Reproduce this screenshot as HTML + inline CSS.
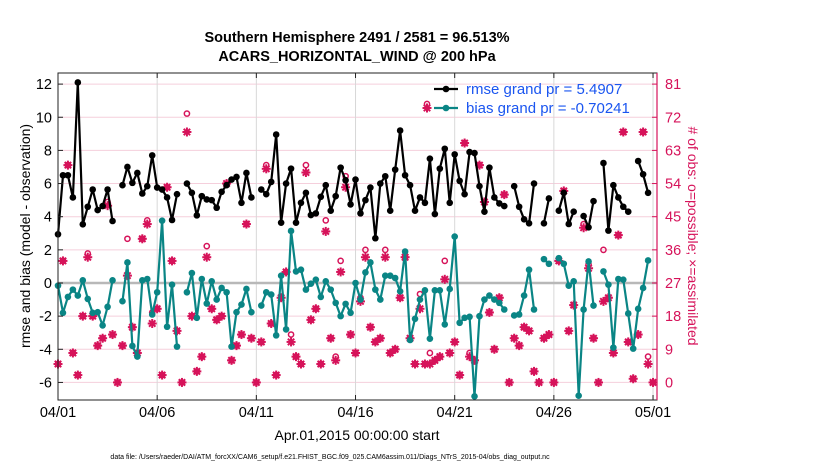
<!DOCTYPE html>
<html><head><meta charset="utf-8"><style>
body{margin:0;background:#fff;}
svg{display:block;font-family:"Liberation Sans",sans-serif;}
</style></head><body>
<svg id="chart" width="830" height="470" viewBox="0 0 830 470" xmlns="http://www.w3.org/2000/svg">
<text x="357" y="42" text-anchor="middle" font-size="14.5" font-weight="bold">Southern Hemisphere 2491 / 2581 = 96.513%</text>
<text x="357" y="61" text-anchor="middle" font-size="14.5" font-weight="bold">ACARS_HORIZONTAL_WIND @ 200 hPa</text>
<g id="grid"></g>
<g id="marks"></g>
<g id="axes"></g>
<text transform="translate(30,236) rotate(-90)" text-anchor="middle" font-size="14">rmse and bias (model - observation)</text>
<text transform="translate(688,236) rotate(90)" text-anchor="middle" font-size="14" fill="#d6135a"># of obs: o=possible; ×=assimilated</text>
<text x="357" y="440" text-anchor="middle" font-size="14">Apr.01,2015 00:00:00 start</text>
<text x="330" y="459" text-anchor="middle" font-size="7">data file: /Users/raeder/DAI/ATM_forcXX/CAM6_setup/f.e21.FHIST_BGC.f09_025.CAM6assim.011/Diags_NTrS_2015-04/obs_diag_output.nc</text>
<g id="legend"></g>
</svg>
<script>
const rmse=[2.94,6.5,6.5,5.16,12.1,3.54,4.6,5.64,4.4,4.64,5.64,3.74,null,5.9,7.0,6.04,6.64,5.4,5.84,7.7,5.76,5.64,5.16,3.8,5.36,null,6.0,5.44,4.08,5.24,5.04,5.0,4.54,5.5,5.9,6.24,6.4,4.84,6.64,5.16,null,5.64,5.36,6.1,8.96,3.64,6.0,6.9,3.64,4.84,5.44,4.1,4.2,5.2,5.9,4.36,5.24,6.96,6.2,4.74,6.24,4.2,5.0,5.76,2.7,6.0,6.44,4.36,6.84,9.2,6.5,5.9,4.36,5.16,4.84,7.5,4.16,6.9,8.1,4.84,7.76,6.16,5.36,7.9,7.84,5.84,4.3,6.96,5.16,4.8,4.64,null,5.84,4.6,3.84,3.6,6.0,null,3.6,5.1,null,4.36,5.44,3.56,4.3,null,4.04,3.36,4.94,null,7.24,3.16,5.9,5.16,4.6,4.3,null,7.36,6.56,5.44];
const bias=[-0.16,-1.8,-0.84,-0.4,-0.76,0.16,-0.96,-1.8,-1.76,-2.56,-1.44,0.16,null,-1.1,1.24,-3.8,-4.44,0.16,0.24,-1.9,-0.56,3.76,-2.64,-0.1,-3.84,null,-0.56,0.6,-2.1,0.24,-1.24,0.1,-1.0,-0.3,-0.56,-3.84,-1.76,-1.3,-0.36,-1.76,null,-1.36,-0.56,-0.7,-3.16,0.44,-2.8,3.14,0.7,0.8,-0.4,-0.04,0.2,-0.84,0.1,-0.4,-1.2,-2.0,-1.26,-1.8,0.0,-1.0,0.64,1.24,-0.4,-1.0,0.44,0.44,0.3,-0.5,1.9,-3.44,-2.16,-1.0,-0.44,-3.36,-0.44,-0.44,-2.5,-0.36,2.8,-2.4,-2.1,-2.04,-6.84,-2.0,-1.0,-0.76,-1.0,-1.2,-1.6,null,-1.96,-1.9,-0.76,0.8,-1.6,null,1.44,1.16,null,1.5,1.16,-0.16,0.1,-6.8,-1.6,1.3,-1.36,null,0.7,-0.1,-3.9,0.24,0.2,-1.84,-3.96,-1.56,-0.3,1.36];
const assimilated=[5,33,59,8,2,18,34,18,10,12,48,13,0,10,29,15,8,39,43,16,20,2,53,33,14,0,68,18,3,7,34,20,17,18,54,6,10,13,43,12,0,11,58,16,2,23,30,11,7,5,57,17,20,5,41,12,6,30,53,13,8,22,34,15,11,12,34,8,9,23,34,12,5,20,5,5,6,7,28,8,11,2,65,7,6,59,49,19,9,23,51,0,12,10,15,14,3,0,12,13,0,33,52,14,21,null,42,31,12,0,22,23,8,40,68,11,1,13,68,5,0];
const possible=[5,33,59,8,2,18,35,18,10,12,49,13,0,10,39,15,8,39,44,19,20,2,53,33,14,0,73,18,3,7,37,20,17,18,54,6,10,13,43,12,0,11,59,16,2,23,30,13,7,5,59,17,20,5,44,12,7,33,56,13,8,23,36,15,11,12,36,8,9,23,34,12,5,24,5,8,6,7,33,8,11,2,65,8,6,59,49,19,9,23,51,0,12,10,15,14,3,0,12,13,0,33,52,14,21,null,43,32,12,0,36,23,8,40,68,11,1,13,68,7,0];
const leftTicks=[-6,-4,-2,0,2,4,6,8,10,12];
const rightTicks=[0,9,18,27,36,45,54,63,72,81];
const dateLabels=["04/01","04/06","04/11","04/16","04/21","04/26","05/01"];
const dateDays=[0,5,10,15,20,25,30];

const X0=58,X1=657,Y0=73,Y1=400;
const vMin=-7.06,vMax=12.67;
const dayMax=30.2;
function xs(d){return X0+d/dayMax*(X1-X0);}
function ys(v){return Y1-(v-vMin)/(vMax-vMin)*(Y1-Y0);}
function yc(c){return ys(c/4.5-6);}
const NS="http://www.w3.org/2000/svg";
function mk(tag,attrs,parent){const e=document.createElementNS(NS,tag);for(const k in attrs)e.setAttribute(k,attrs[k]);parent.appendChild(e);return e;}
const grid=document.getElementById('grid'),marks=document.getElementById('marks'),axes=document.getElementById('axes'),legend=document.getElementById('legend');
const PINK="#d6135a",TEAL="#0a8585";

mk('rect',{x:X0,y:Y0,width:X1-X0,height:Y1-Y0,fill:'#fff'},grid);
rightTicks.forEach(c=>{const l=mk('line',{x1:X0,x2:X1,y1:yc(c),y2:yc(c),stroke:'#f5cfdc','stroke-width':1},grid);

});
dateDays.forEach(d=>{const l=mk('line',{x1:xs(d),x2:xs(d),y1:Y0,y2:Y1,stroke:'#d8d8d8','stroke-width':1},grid);

});
const zl=mk('line',{x1:X0,x2:X1,y1:ys(0),y2:ys(0),stroke:'#b8b8b8','stroke-width':2.5},grid);



function px(i){return xs(i/4);}
function drawLine(arr,color,name){
  let d='',pen=false;
  arr.forEach((v,i)=>{if(v===null){pen=false;return;}d+=(pen?'L':'M')+px(i).toFixed(1)+' '+ys(v).toFixed(1);pen=true;});
  const p=mk('path',{d:d,fill:'none',stroke:color,'stroke-width':2.2,'stroke-linejoin':'round'},marks);
  
  
  arr.forEach((v,i)=>{if(v===null)return;const c=mk('circle',{cx:px(i),cy:ys(v),r:3.3,fill:color},marks);
  
  });
}
function star(x,y,parent){
  const g=mk('g',{stroke:PINK,'stroke-width':2},parent);
  [[0,-4.5,0,4.5],[-4.5,0,4.5,0],[-3.2,-3.2,3.2,3.2],[-3.2,3.2,3.2,-3.2]].forEach(s=>mk('line',{x1:x+s[0],y1:y+s[1],x2:x+s[2],y2:y+s[3]},g));
  return g;
}
possible.forEach((c,i)=>{if(c===null)return;const e=mk('circle',{cx:px(i),cy:yc(c),r:2.6,fill:'none',stroke:PINK,'stroke-width':1.5},marks);

});
assimilated.forEach((c,i)=>{if(c===null)return;const g=star(px(i),yc(c),marks);

});
drawLine(rmse,'#000','rmse');
drawLine(bias,TEAL,'bias');

mk('rect',{x:X0,y:Y0,width:X1-X0,height:Y1-Y0,fill:'none',stroke:'#222','stroke-width':1},axes);
mk('line',{x1:X1,x2:X1,y1:Y0,y2:Y1,stroke:PINK,'stroke-width':1.2},axes);
leftTicks.forEach(v=>{mk('line',{x1:X0,x2:X0+5,y1:ys(v),y2:ys(v),stroke:'#222'},axes);
const t=mk('text',{x:X0-6,y:ys(v)+5,'text-anchor':'end','font-size':14.5},axes);t.textContent=v;

});
rightTicks.forEach(c=>{mk('line',{x1:X1-5,x2:X1,y1:yc(c),y2:yc(c),stroke:PINK},axes);
const t=mk('text',{x:X1+8,y:yc(c)+5,'font-size':14.5,fill:PINK},axes);t.textContent=c;

});
dateDays.forEach((d,k)=>{mk('line',{x1:xs(d),x2:xs(d),y1:Y1,y2:Y1-5,stroke:'#222'},axes);mk('line',{x1:xs(d),x2:xs(d),y1:Y0,y2:Y0+5,stroke:'#222'},axes);
const t=mk('text',{x:xs(d),y:Y1+17,'text-anchor':'middle','font-size':14.5},axes);t.textContent=dateLabels[k];

});

mk('line',{x1:434,x2:458,y1:89,y2:89,stroke:'#000','stroke-width':2.2},legend);
mk('circle',{cx:446,cy:89,r:3.3,fill:'#000'},legend);
const t1=mk('text',{x:466,y:94,'font-size':15,fill:'#1a55f0'},legend);t1.textContent='rmse grand pr = 5.4907';


mk('circle',{cx:427,cy:104,r:2.6,fill:'none',stroke:PINK,'stroke-width':1.5},legend);
star(427,108,legend);
mk('line',{x1:434,x2:458,y1:108,y2:108,stroke:TEAL,'stroke-width':2.2},legend);
mk('circle',{cx:446,cy:108,r:3.3,fill:TEAL},legend);
const t2=mk('text',{x:466,y:113,'font-size':15,fill:'#1a55f0'},legend);t2.textContent='bias grand pr = -0.70241';


</script>
</body></html>
